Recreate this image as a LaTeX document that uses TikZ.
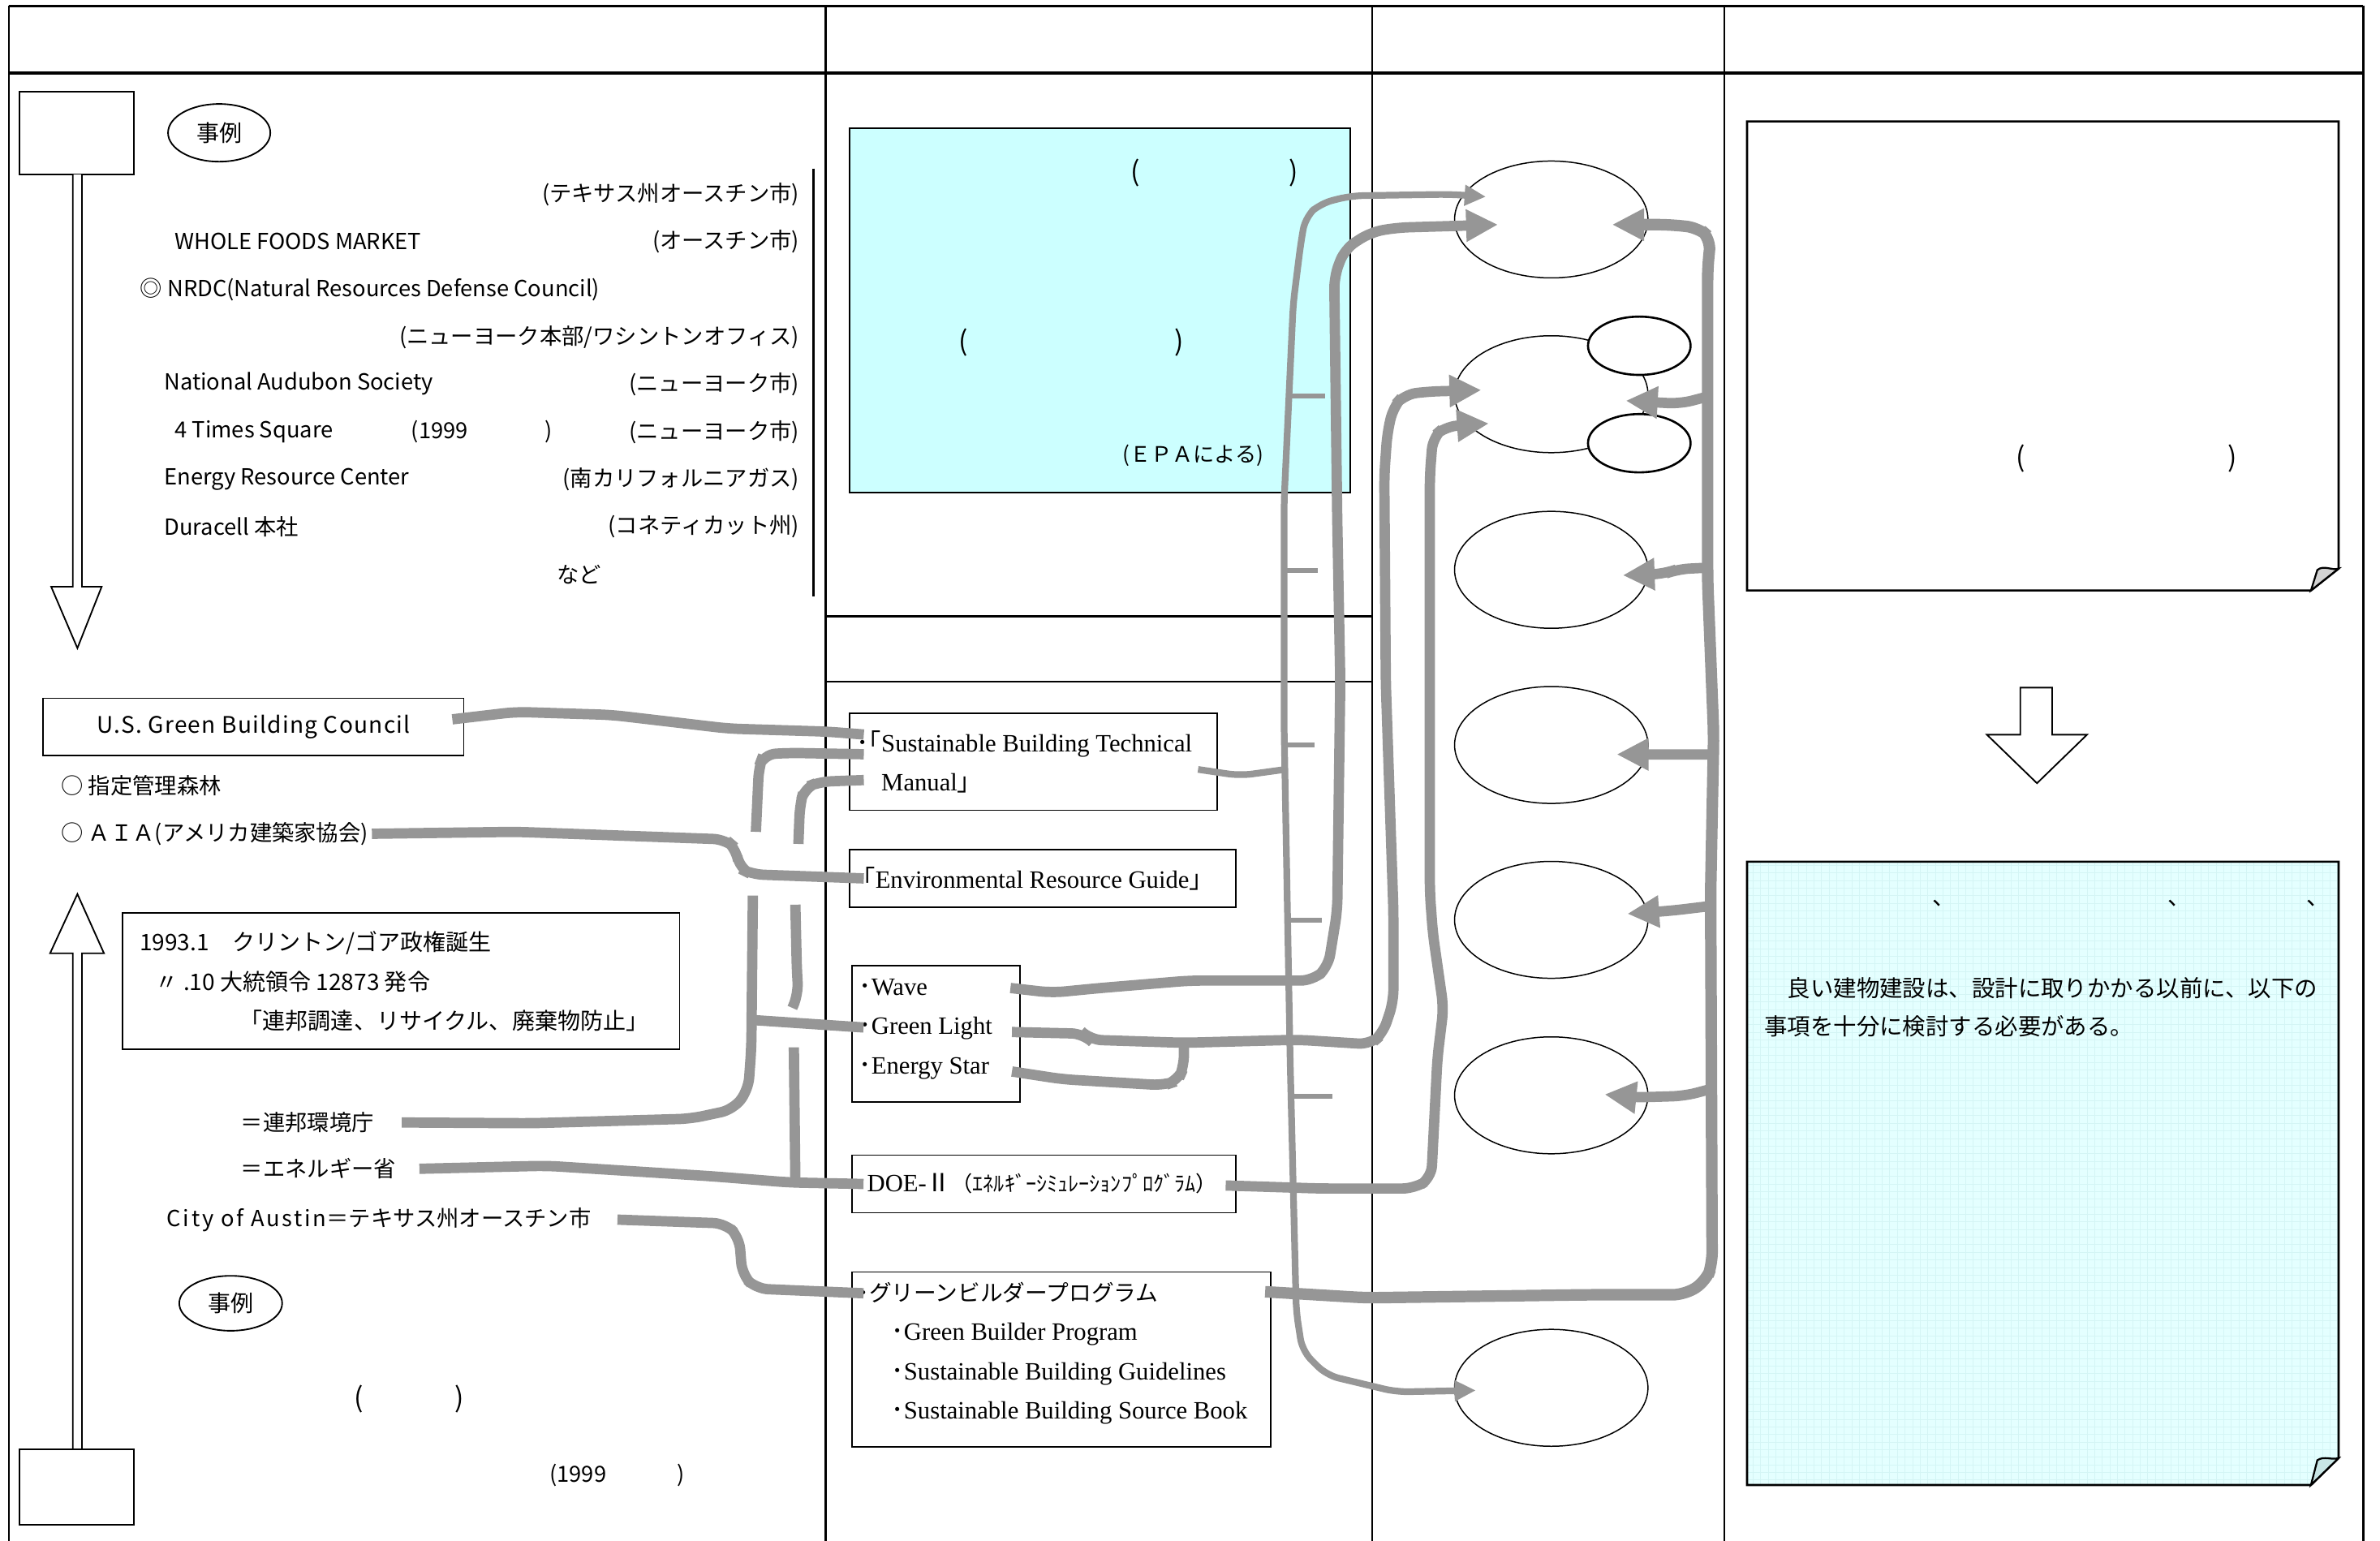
\documentclass[tikz,border=0pt]{standalone}
\usepackage{fontspec}
\setmainfont{Liberation Serif}
\newfontfamily\jp{Noto Sans CJK JP}
\usetikzlibrary{arrows.meta,shapes.geometric,positioning}

\definecolor{linkgray}{RGB}{150,150,150}
\definecolor{epacyan}{RGB}{204,255,255}
\definecolor{notecyan}{RGB}{228,255,255}
\definecolor{gridcyan}{RGB}{212,245,245}
\definecolor{curlgray}{RGB}{210,210,210}
\definecolor{curlcyan}{RGB}{200,230,230}

\tikzset{
  jtxt/.style={font=\jp\fontsize{7.3}{9}\selectfont, inner sep=0pt},
  etxt/.style={font=\fontsize{8.2}{13}\selectfont, inner sep=0pt, align=left},
  paren/.style={font=\jp\fontsize{9}{10}\selectfont, inner sep=0pt},
  srcbox/.style={draw, line width=0.5pt, inner sep=0pt},
  oval/.style={draw, ellipse, line width=0.4pt, inner sep=0pt, minimum width=63.7pt, minimum height=38.5pt},
  smalloval/.style={draw, ellipse, line width=0.7pt, fill=white, inner sep=0pt, minimum width=33.8pt, minimum height=19.2pt},
  reioval/.style={draw, ellipse, line width=0.5pt, inner sep=0pt, font=\jp\fontsize{7.5}{9}\selectfont},
  link/.style={draw=linkgray, line width=3.4pt, rounded corners=4pt},
  thinlink/.style={link, line width=2.2pt},
  stub/.style={draw=linkgray, line width=1.6pt},
  bigtip/.style={-{Triangle[length=10.5pt,width=10pt]}},
  smalltip/.style={{Triangle[length=7pt,width=6.5pt]}-{Triangle[length=7pt,width=6.5pt]}},
  hollow/.style={draw, fill=white, line width=0.5pt},
  tablerule/.style={line width=1pt},
  colrule/.style={line width=0.6pt},
}

\begin{document}
\begin{tikzpicture}[x=0.5pt, y=-0.5pt]
  \useasboundingbox (0,0) rectangle (1568,1015);

  % table frame
  \draw[tablerule] (6,4) -- (1557,4);
  \draw[tablerule] (6,48) -- (1557,48);
  \foreach \cx in {6,544,904,1136,1557}
    \draw[colrule] (\cx,4) -- (\cx,1015);
  \draw[colrule] (544,406) -- (904,406);
  \draw[colrule] (544,449) -- (904,449);

  % column 1: downward timeline arrow
  \node[srcbox, minimum width=37.5pt, minimum height=27.3pt] (topbox) at (50.5,87.8) {};
  \draw[hollow] (48,115) -- (48,386.5) -- (33.7,386.5) -- (51,427) -- (67,386.5) -- (54,386.5) -- (54,115);
  \node[reioval, minimum width=33.7pt, minimum height=19pt] (rei1) at (144.4,87.5) {事例};
  \draw[colrule] (536,111) -- (536,393);

  % column 1: example buildings
  \node[jtxt, anchor=east] (locA) at (527,128) {(テキサス州オースチン市)};
  \node[jtxt, anchor=west] (wfm) at (114.8,159) {WHOLE FOODS MARKET};
  \node[jtxt, anchor=east] (locB) at (527,159) {(オースチン市)};
  \node[jtxt, anchor=west] (nrdc) at (92,190.8) {◎ NRDC(Natural Resources Defense Council)};
  \node[jtxt, anchor=east] (locC) at (527,222.5) {(ニューヨーク本部/ワシントンオフィス)};
  \node[jtxt, anchor=west] (audubon) at (107.8,253) {National Audubon Society};
  \node[jtxt, anchor=east] (locD) at (527,253) {(ニューヨーク市)};
  \node[jtxt, anchor=west] (times) at (114.8,284.5) {4 Times Square};
  \node[jtxt, anchor=west] (yearA) at (270.6,284.5) {(1999};
  \node[jtxt] (yearAend) at (361.7,284.5) {)};
  \node[jtxt, anchor=east] (locE) at (527,284.5) {(ニューヨーク市)};
  \node[jtxt, anchor=west] (erc) at (107.8,316) {Energy Resource Center};
  \node[jtxt, anchor=east] (locF) at (527,316) {(南カリフォルニアガス)};
  \node[jtxt, anchor=west] (duracell) at (107.8,347) {Duracell 本社};
  \node[jtxt, anchor=east] (locG) at (527,347) {(コネティカット州)};
  \node[jtxt] (nado) at (381.6,378.6) {など};

  % column 1: organisations
  \node[srcbox, minimum width=138.5pt, minimum height=18.9pt, font=\jp\fontsize{7.5}{9}\selectfont] (usgbc) at (167,478.9) {\addfontfeature{LetterSpace=4.5}U.S. Green Building Council};
  \node[jtxt, anchor=west] (shitei) at (40,517.5) {○ 指定管理森林};
  \node[jtxt, anchor=west] (aia) at (40,549.3) {○ ＡＩＡ(アメリカ建築家協会)};

  % column 1: upward timeline arrow
  \draw[hollow] (48,955) -- (48,628) -- (33,628) -- (51,589) -- (68.5,628) -- (54,628) -- (54,955);
  \node[srcbox, minimum width=37.5pt, minimum height=24.8pt] (botbox) at (50.5,979.8) {};

  % column 1: policy box and agencies
  \node[srcbox, minimum width=183.5pt, minimum height=44.9pt] (clinton) at (264.2,646.5) {};
  \node[jtxt, font=\jp\fontsize{7.5}{13}\selectfont, align=left, right=5.75pt of clinton.west] (clintontxt)
    {1993.1　クリントン/ゴア政権誕生\\\hspace*{5.2pt}〃 .10 大統領令 12873 発令\\\hspace*{33pt}「連邦調達、リサイクル、廃棄物防止」};
  \node[jtxt, anchor=west] (kankyo) at (158.3,739.5) {＝連邦環境庁};
  \node[jtxt, anchor=west] (energy) at (158.3,770) {＝エネルギー省};
  \node[jtxt, anchor=west] (austin) at (109.6,803.5) {{\addfontfeature{LetterSpace=10}City of Austin}＝テキサス州オースチン市};
  \node[reioval, minimum width=33.9pt, minimum height=18.1pt] (rei2) at (152,858.6) {事例};
  \node[paren] (pA) at (236.5,921.7) {(};
  \node[paren] (pB) at (302.6,921.7) {)};
  \node[jtxt, anchor=west] (yearB) at (361.7,972) {(1999};
  \node[jtxt] (yearBend) at (448.7,972) {)};

  % column 2: EPA box
  \node[srcbox, fill=epacyan, minimum width=164.9pt, minimum height=119.9pt] (epa) at (724.5,204.5) {};
  \node[paren] (epaA) at (748,114) {(};
  \node[paren] (epaB) at (852,114) {)};
  \node[paren] (epaC) at (634.5,225.4) {(};
  \node[paren] (epaD) at (776.8,225.4) {)};
  \node[jtxt, font=\jp\fontsize{7}{9}\selectfont, anchor=east] (epanote) at (833,300) {(ＥＰＡによる)};

  % column 2: sources
  \node[srcbox, minimum width=121.1pt, minimum height=31.9pt] (sbtm) at (680.7,501.9) {};
  \node[etxt, right=2.4pt of sbtm.west] (sbtmtxt) {{\jp ･｢}Sustainable Building Technical\\\hphantom{\jp ･｢}Manual{\jp ｣}};
  \node[srcbox, minimum width=127.2pt, minimum height=19pt] (erg) at (686.8,578.7) {};
  \node[etxt, right=4.5pt of erg.west] (ergtxt) {{\jp ｢}Environmental Resource Guide{\jp ｣}};
  \node[srcbox, minimum width=55.4pt, minimum height=44.9pt] (wge) at (616.8,680.9) {};
  \node[etxt, right=2.3pt of wge.west, yshift=1.5pt] (wgetxt) {{\jp ･}Wave\\{\jp ･}Green Light\\{\jp ･}Energy Star};
  \node[srcbox, minimum width=126.3pt, minimum height=19pt] (doe) at (687.7,780) {};
  \node[etxt, right=5pt of doe.west] (doetxt) {DOE-{\jp Ⅱ\fontsize{7}{9}\selectfont （ｴﾈﾙｷﾞｰｼﾐｭﾚｰｼｮﾝﾌﾟﾛｸﾞﾗﾑ）}};
  \node[srcbox, minimum width=137.8pt, minimum height=57.5pt] (gb) at (699.2,895.5) {};
  \node[etxt, right=2pt of gb.west, yshift=2pt] (gbtxt)
    {{\jp\fontsize{7.4}{13}\selectfont ･グリーンビルダープログラム}\\
     \hspace*{11pt}{\jp ･}Green Builder Program\\
     \hspace*{11pt}{\jp ･}Sustainable Building Guidelines\\
     \hspace*{11pt}{\jp ･}Sustainable Building Source Book};

  % column 3: targets
  \node[oval] (e1) at (1022,144.6) {};
  \node[oval] (e2) at (1022,259.7) {};
  \node[smalloval] (e2a) at (1080,227.8) {};
  \node[smalloval] (e2b) at (1080,292) {};
  \node[oval] (e3) at (1022,375.4) {};
  \node[oval] (e4) at (1022,490.8) {};
  \node[oval] (e5) at (1022,606) {};
  \node[oval] (e6) at (1022,721.6) {};
  \node[oval] (e7) at (1022,914.3) {};

  % column 4: upper note
  \draw[line width=0.7pt, fill=white] (1151,80) -- (1540.7,80) -- (1540.7,374.6) -- (1522.5,389) -- (1151,389) -- cycle;
  \draw[line width=0.6pt, fill=curlgray] (1522.5,389) -- (1526.7,375.5) .. controls (1531,372) and (1536,376) .. (1540.7,374.6) -- cycle;
  \node[paren] (noteA) at (1331.5,302) {(};
  \node[paren] (noteB) at (1470.8,302) {)};
  \draw[hollow] (1331,453) -- (1352,453) -- (1352,484) -- (1375,484) -- (1342,516) -- (1309,484) -- (1331,484) -- cycle;

  % column 4: lower note
  \begin{scope}
    \clip (1151,567.7) -- (1540.7,567.7) -- (1540.7,960.6) -- (1522.5,978.3) -- (1151,978.3) -- cycle;
    \fill[notecyan] (1151,567.7) rectangle (1541,979);
    \draw[gridcyan, line width=0.2pt, step=2.5pt] (1151,567.7) grid (1541,979);
  \end{scope}
  \draw[line width=0.7pt] (1151,567.7) -- (1540.7,567.7) -- (1540.7,960.6) -- (1522.5,978.3) -- (1151,978.3) -- cycle;
  \draw[line width=0.6pt, fill=curlcyan] (1522.5,978.3) -- (1526.7,962) .. controls (1531,959) and (1536,962) .. (1540.7,960.6) -- cycle;
  \foreach \kx in {1281,1436,1527}
    \node[jtxt, font=\jp\fontsize{7.6}{9}\selectfont] at (\kx,595) {、};
  \node[jtxt, font=\jp\fontsize{7.6}{12.5}\selectfont, align=left, anchor=west] (advice) at (1162,663.5)
    {　良い建物建設は、設計に取りかかる以前に、以下の\\事項を十分に検討する必要がある。};

  % links: column 1 to column 2
  \coordinate (stubA) at (498,548);
  \coordinate (stubB) at (526,556);
  \coordinate (kTop) at (496,590);
  \coordinate (kTee) at (496,672);
  \coordinate (dTop) at (524,596);
  \coordinate (dEnd) at (522,664);
  \coordinate (dTee) at (523,690);
  \coordinate (dFoot) at (524,779);
  \draw[link] ([shift={(-8,-5)}]usgbc.east) -- (340,469) -- (403,471) -- (480,480) -- (545,482) -- ([shift={(10,-18)}]sbtm.west);
  \draw[link] ([shift={(10,-5)}]sbtm.west) -- (520,496) -- (503,497) -- (500,505) -- (stubA);
  \draw[link] ([shift={(10,12)}]sbtm.west) -- (540,515) -- (530,519) -- (527,530) -- (stubB);
  \draw[link] ([xshift=1pt]aia.east) -- (340,548) -- (478,553) -- (485,559) -- (487,572) -- (495,576) -- ([shift={(10,0)}]erg.west);
  \draw[link] ([xshift=9pt]kankyo.east) -- (350,740) -- (455,737) -- (483,731) -- (493,718) -- (495,690) -- (kTop);
  \draw[link] (kTee) -- ([shift={(8,-4)}]wge.west);
  \draw[link] (dTop) -- (525,640) -- (526,655) -- (dEnd);
  \draw[link] ([xshift=7.5pt]energy.east) -- (360,768) -- (470,775) -- (520,779) -- ([shift={(8,0)}]doe.west);
  \draw[link] (dTee) -- (dFoot);
  \draw[link] ([xshift=8.5pt]austin.east) -- (478,806) -- (487,815) -- (489,840) -- (498,849) -- ([shift={(8,-43.5)}]gb.west);

  % links: manual line to first and last target
  \coordinate (thinJoin) at (846,507);
  \draw[thinlink] ([shift={(-13,5)}]sbtm.east) -- (817,511) -- (thinJoin);
  \draw[thinlink, smalltip] ([shift={(21,-15)}]e1.west) -- (955,128) -- (890,129) -- (870,134) -- (860,143) -- (857,160) -- (852,200) -- (846,330) -- (846,480) -- (850,700) -- (854,864) -- (858,890) -- (874,906) -- (920,917) -- ([shift={(14.4,1.7)}]e7.west);
  \foreach \ty/\sx/\ex in {261/849/873, 376/846/868, 491/846/866, 606/848/871, 722/850/878}
    \draw[stub] (\sx,\ty) -- (\ex,\ty);

  % links: Wave, Green Light, Energy Star, DOE
  \coordinate (glJoin) at (780,687);
  \draw[link, bigtip] ([shift={(-7,-30)}]wge.east) -- (693,654) -- (724,651) -- (784,646) -- (865,646) -- (875,637) -- (881,600) -- (883,449) -- (881,342) -- (879,182) -- (886,164) -- (903,153) -- (920,150) -- ([shift={(29,3.4)}]e1.west);
  \draw[link, bigtip] ([shift={(-6,-1)}]wge.east) -- (714,681) -- (718,685) -- (glJoin) -- (855,685) -- (903,688) -- (911,681) -- (918,660) -- (918,600) -- (913,450) -- (912,313) -- (914,285) -- (918,268) -- (925,260) -- (940,258) -- ([shift={(18,-2.7)}]e2.west);
  \draw[link] ([shift={(-6,25)}]wge.east) -- (700,711) -- (767,715) -- (776,712) -- (780,703) -- (glJoin);
  \draw[link, bigtip] ([shift={(-7,1)}]doe.east) -- (870,783) -- (932,783) -- (943,776) -- (947,697) -- (951,664) -- (944,615) -- (942,588) -- (942,313) -- (944,288) -- (952,281) -- ([shift={(23,19.3)}]e2.west);

  % links: green builder program to the targets
  \coordinate (rv2) at (1126,261);
  \coordinate (rv3) at (1125,374);
  \coordinate (rv4) at (1128,497);
  \coordinate (rv5) at (1126,597);
  \coordinate (rv6) at (1125,718);
  \draw[link, line width=3.8pt, bigtip] ([shift={(-4,-44.5)}]gb.east) -- (900,855) -- (1046,853) -- (1110,853) -- (1124,844) -- (1128,833) -- (1127,588) -- (1129,484) -- (1125,382) -- (1125,177) -- (1127,157) -- (1119,150) -- (1100,148) -- ([shift={(-24,3.4)}]e1.east);
  \draw[link, bigtip] (rv2) -- (1107,266) -- ([shift={(-15,4.3)}]e2.east);
  \draw[link, bigtip] (rv3) -- (1105,375) -- (1097,378) -- ([shift={(-17,3.6)}]e3.east);
  \draw[link, bigtip] (rv4) -- ([shift={(-21,6.2)}]e4.east);
  \draw[link, bigtip] (rv5) -- (1101,600) -- ([shift={(-14,-4)}]e5.east);
  \draw[link, bigtip] (rv6) -- (1110,722) -- (1077,723) -- ([shift={(-29,-0.6)}]e6.east);
\end{tikzpicture}
\end{document}
